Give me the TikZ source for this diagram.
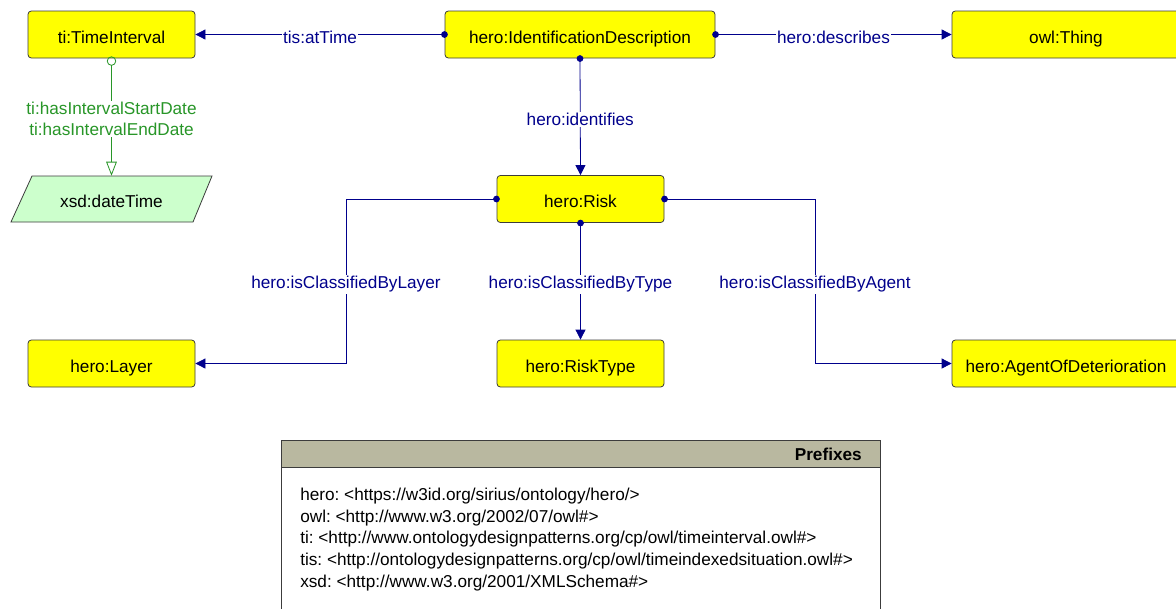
\documentclass[tikz,border=0pt]{standalone}
\usepackage{fontspec}
\setmainfont{Liberation Sans}
\frenchspacing
\usetikzlibrary{arrows.meta}
\definecolor{edgeblue}{RGB}{0,0,140}
\definecolor{edgegreen}{RGB}{40,150,40}
\definecolor{clsfill}{RGB}{255,255,0}
\definecolor{dtfill}{RGB}{204,255,204}
\definecolor{boxline}{RGB}{60,60,60}
\definecolor{hdrfill}{RGB}{185,184,160}
\tikzset{
  cls/.style={draw=boxline, fill=clsfill, rounded corners=2.5pt, line width=0.6pt,
    minimum height=35.25pt, text=black, font=\fontsize{12.9}{15}\selectfont, inner sep=0pt,
    text height=13.2pt, text depth=0pt},
  objedge/.style={draw=edgeblue, line width=0.6pt, shorten <=-2.4pt, {Circle[length=5pt]}-{Triangle[length=7.5pt,width=7.5pt]}},
  dtedge/.style={draw=edgegreen, line width=0.6pt, shorten <=-1.5pt, {Circle[open,length=7pt,width=7pt]}-{Triangle[open,length=10.5pt,width=8pt]}},
  elabel/.style={fill=white, text=edgeblue, inner sep=1pt, font=\fontsize{12.9}{15}\selectfont, yshift=-2.2pt},
  glabel/.style={fill=white, text=edgegreen, inner sep=1pt, align=center, font=\fontsize{12.9}{15.75}\selectfont, yshift=-1.5pt},
}
\begin{document}
\begin{tikzpicture}[x=0.75pt, y=-0.75pt]
\clip (0,0) rectangle (1176,608);
\useasboundingbox (0,0) rectangle (1176,608);
\fill[white] (0,0) rectangle (1176,608);

% class nodes
\node[cls, minimum width=125.25pt] (ti) at (111.5,34.5) {ti:TimeInterval};
\node[cls, minimum width=202.5pt] (id) at (580,34.5) {hero:IdentificationDescription};
\node[cls, minimum width=171pt] (thing) at (1066,34.5) {owl:Thing};
\node[cls, minimum width=125.25pt] (risk) at (580.5,199) {hero:Risk};
\node[cls, minimum width=125.25pt] (layer) at (111.5,363.5) {hero:Layer};
\node[cls, minimum width=125.25pt] (rtype) at (580.5,363.5) {hero:RiskType};
\node[cls, minimum width=171pt] (agent) at (1066,363.5) {hero:AgentOfDeterioration};

% datatype node
\draw[draw=boxline, fill=dtfill, line width=0.6pt] (32,176) -- (212,176) -- (193,222) -- (11,222) -- cycle;
\node[minimum width=135pt, minimum height=34.5pt, inner sep=0pt, text height=13.2pt, text depth=0pt, font=\fontsize{12.9}{15}\selectfont] (xsd) at (111.5,199) {xsd:dateTime};

% object property edges
\draw[objedge] (id.west) -- node[elabel, pos=0.5] {tis:atTime} (ti.east);
\draw[objedge] (id.east) -- node[elabel, pos=0.5] {hero:describes} (thing.west);
\draw[objedge] (id.south) -- node[elabel, pos=0.5] {hero:identifies} (risk.north);
\draw[objedge] (risk.south) -- node[elabel, pos=0.5] {hero:isClassifiedByType} (rtype.north);
\coordinate (lk) at (346,199);
\coordinate (lk2) at (346,363.5);
\draw[objedge] (risk.west) -- (lk) -- node[elabel, pos=0.5] {hero:isClassifiedByLayer} (lk2) -- (layer.east);
\coordinate (ak) at (815,199);
\coordinate (ak2) at (815,363.5);
\draw[objedge] (risk.east) -- (ak) -- node[elabel, pos=0.5] {hero:isClassifiedByAgent} (ak2) -- (agent.west);

% datatype property edge
\draw[dtedge] (ti.south) -- node[glabel, pos=0.5] {ti:hasIntervalStartDate\\ti:hasIntervalEndDate} (xsd.north);

% prefixes box
\draw[draw=boxline, fill=hdrfill, line width=0.6pt] (281,440) rectangle (880,467);
\draw[draw=boxline, fill=white, line width=0.6pt] (281,467) rectangle (880,614);
\node[anchor=east, font=\bfseries\fontsize{12.9}{15}\selectfont, inner sep=0pt] (ptitle) at (862,454) {Prefixes};
\node[anchor=north west, align=left, inner sep=0pt, font=\fontsize{12.9}{16.4}\selectfont] (ptext) at (300,487.5)
{hero: <https://w3id.org/sirius/ontology/hero/>\\
owl: <http://www.w3.org/2002/07/owl\#>\\
ti: <http://www.ontologydesignpatterns.org/cp/owl/timeinterval.owl\#>\\
tis: <http://ontologydesignpatterns.org/cp/owl/timeindexedsituation.owl\#>\\
xsd: <http://www.w3.org/2001/XMLSchema\#>};
\end{tikzpicture}
\end{document}
